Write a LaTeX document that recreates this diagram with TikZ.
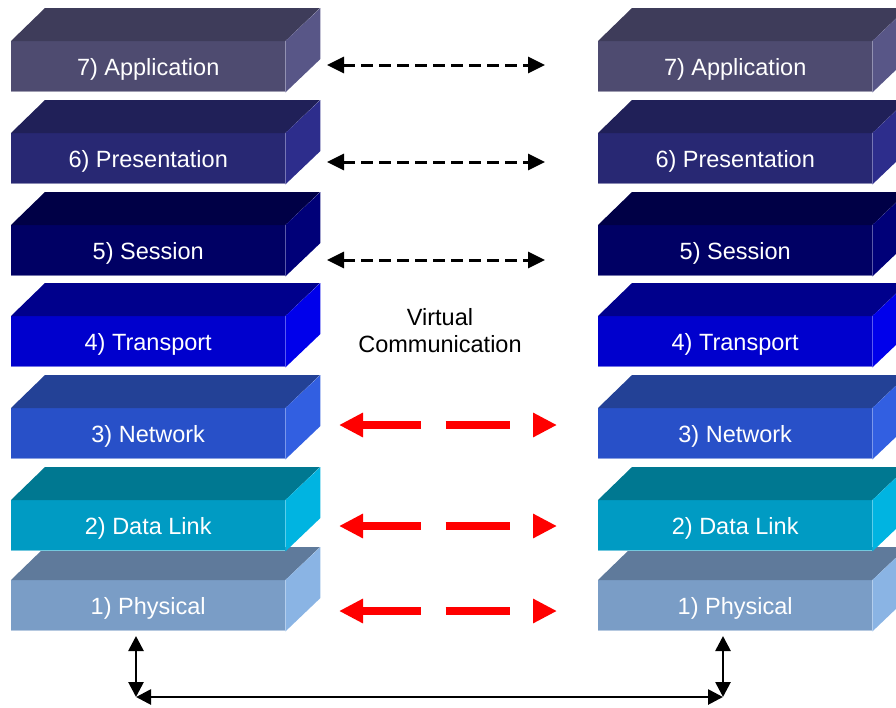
\documentclass[tikz,border=0pt]{standalone}
\usepackage{fontspec}
\setmainfont{Liberation Sans}
\usetikzlibrary{arrows.meta,calc}

% layer colours: front / top / side
\definecolor{appF}{HTML}{4E4B70}\definecolor{appT}{HTML}{3E3C5A}\definecolor{appS}{HTML}{585687}
\definecolor{preF}{HTML}{282873}\definecolor{preT}{HTML}{202058}\definecolor{preS}{HTML}{2D2D8C}
\definecolor{sesF}{HTML}{000064}\definecolor{sesT}{HTML}{000046}\definecolor{sesS}{HTML}{000078}
\definecolor{traF}{HTML}{0000CD}\definecolor{traT}{HTML}{00008C}\definecolor{traS}{HTML}{0000EB}
\definecolor{netF}{HTML}{2850C8}\definecolor{netT}{HTML}{234196}\definecolor{netS}{HTML}{325FE1}
\definecolor{dlkF}{HTML}{009BC3}\definecolor{dlkT}{HTML}{007891}\definecolor{dlkS}{HTML}{00B4E1}
\definecolor{phyF}{HTML}{7A9DC6}\definecolor{phyT}{HTML}{5F7A9B}\definecolor{phyS}{HTML}{8AB4E4}

\tikzset{
  layerface/.style={draw=none, minimum width=274pt, minimum height=51pt,
    inner sep=0pt, anchor=north west, text=white,
    text height=16.8pt, text depth=0pt,
    font=\fontsize{23.5}{27}\selectfont},
  layeredge/.style={line width=1pt, draw=#1!55!white},
  caption/.style={align=center, font=\fontsize{23.5}{27}\selectfont},
  peerlink/.style={line width=3pt, dash pattern=on 12pt off 6pt,
    {Triangle[length=17pt,width=16pt]}-{Triangle[length=17pt,width=16pt]}},
  hostlink/.style={red, line width=7.5pt,
    dash pattern=on 59pt off 25pt on 64pt off 60pt,
    {Triangle[length=24pt,width=23pt]}-{Triangle[length=24pt,width=23pt]}},
  wirelink/.style={line width=2.7pt,
    {Triangle[length=15pt,width=15pt]}-{Triangle[length=15pt,width=15pt]}},
}

% one 3-D layer block: name, x, y (top of front face), front, top, side colours, label
\newcommand\osilayer[7]{%
  \node[layerface, fill=#4] (#1) at (#2,#3) {#7};
  \fill[#5] (#1.north west) -- ++(34,-33) -- ++(275,0) -- (#1.north east) -- cycle;
  \fill[#6] (#1.north east) -- ++(35,-33) -- ++(0,51) -- (#1.south east) -- cycle;
  \draw[layeredge=#4] ([yshift=0.5pt]#1.south west) -- ([yshift=0.5pt]#1.south east);
}

\begin{document}
\begin{tikzpicture}[x=1pt, y=-1pt]
  \useasboundingbox (0,0) rectangle (896,707);
  \clip (0,0) rectangle (896,707);

  % left stack
  \osilayer{L7}{11}{41}{appF}{appT}{appS}{7) Application}
  \osilayer{L6}{11}{133}{preF}{preT}{preS}{6) Presentation}
  \osilayer{L5}{11}{225}{sesF}{sesT}{sesS}{5) Session}
  \osilayer{L4}{11}{316}{traF}{traT}{traS}{4) Transport}
  \osilayer{L3}{11}{408}{netF}{netT}{netS}{3) Network}
  \osilayer{L1}{11}{580}{phyF}{phyT}{phyS}{1) Physical}
  \osilayer{L2}{11}{500}{dlkF}{dlkT}{dlkS}{2) Data Link}

  % right stack
  \osilayer{R7}{598}{41}{appF}{appT}{appS}{7) Application}
  \osilayer{R6}{598}{133}{preF}{preT}{preS}{6) Presentation}
  \osilayer{R5}{598}{225}{sesF}{sesT}{sesS}{5) Session}
  \osilayer{R4}{598}{316}{traF}{traT}{traS}{4) Transport}
  \osilayer{R3}{598}{408}{netF}{netT}{netS}{3) Network}
  \osilayer{R1}{598}{580}{phyF}{phyT}{phyS}{1) Physical}
  \osilayer{R2}{598}{500}{dlkF}{dlkT}{dlkS}{2) Data Link}

  % end points of the peer links
  \coordinate (p7l) at (327,65);  \coordinate (p7r) at (545,65);
  \coordinate (p6l) at (327,162); \coordinate (p6r) at (545,162);
  \coordinate (p5l) at (327,260); \coordinate (p5r) at (545,260);
  \coordinate (p3l) at (339,425); \coordinate (p3r) at (557,425);
  \coordinate (p2l) at (339,526); \coordinate (p2r) at (557,526);
  \coordinate (p1l) at (339,611); \coordinate (p1r) at (557,611);

  \draw[peerlink] (p7l) -- (p7r);
  \draw[peerlink] (p6l) -- (p6r);
  \draw[peerlink] (p5l) -- (p5r);
  \draw[hostlink] (p3l) -- (p3r);
  \draw[hostlink] (p2l) -- (p2r);
  \draw[hostlink] (p1l) -- (p1r);

  \node[caption] (virt) at (440,331) {Virtual\\Communication};

  % physical medium
  \coordinate (wl) at (136,636);  \coordinate (cl) at (136,697);
  \coordinate (wr) at (723,636);  \coordinate (cr) at (723,697);
  \draw[wirelink] (wl) -- (cl);
  \draw[wirelink] (wr) -- (cr);
  \draw[wirelink] (cl) -- (cr);
\end{tikzpicture}
\end{document}
